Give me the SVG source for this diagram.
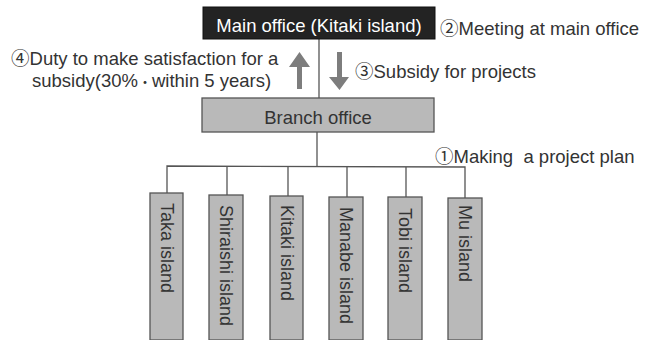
<svg xmlns="http://www.w3.org/2000/svg" width="645" height="340" viewBox="0 0 645 340">
<style>
text{font-family:"Liberation Sans",Arial,"DejaVu Sans",sans-serif;fill:#333;}
.lbl{font-size:18.5px;}
.cj{font-family:"Noto Sans CJK JP","DejaVu Sans",sans-serif;}
.box{fill:#b9b9b9;stroke:#555;stroke-width:1.3;}
.isl{font-size:18px;dominant-baseline:central;}
.conn{stroke:#555;stroke-width:1.3;fill:none;}
.arr{fill:#7d7d7d;}
</style>
<rect width="645" height="340" fill="#fff"/>
<g id="connectors">
<line class="conn" x1="319" y1="39" x2="319" y2="98"/>
<line class="conn" x1="317" y1="132" x2="317" y2="167"/>
<polyline class="conn" points="167,193 167,166 465,167 465,198"/>
<line class="conn" x1="227" y1="166" x2="227" y2="195"/>
<line class="conn" x1="288" y1="166" x2="288" y2="196"/>
<line class="conn" x1="347" y1="167" x2="347" y2="197"/>
<line class="conn" x1="406" y1="167" x2="406" y2="197"/>
<path class="arr" d="M299.5,52 L310,67 L302,67 L302,89 L297,89 L297,67 L289,67 Z"/>
<path class="arr" d="M339.5,90 L349,77 L342,77 L342,52 L337,52 L337,77 L329,77 Z"/>
</g>
<g id="main-office">
<rect x="203" y="7" width="232" height="32" fill="#232323" stroke="#111" stroke-width="1"/>
<text class="lbl" x="319" y="32" text-anchor="middle" style="fill:#fff">Main office (Kitaki island)</text>
</g>
<g id="branch-office">
<rect class="box" x="202" y="98" width="232" height="34"/>
<text class="lbl" x="318" y="124" text-anchor="middle">Branch office</text>
</g>
<g id="labels">
<text class="lbl" x="440" y="35"><tspan class="cj">②</tspan>Meeting at main office</text>
<text class="lbl" x="11" y="65"><tspan class="cj">④</tspan>Duty to make satisfaction for a</text>
<text class="lbl" x="32" y="87">subsidy(30%<tspan class="cj" style="font-size:14px">・</tspan>within 5 years)</text>
<text class="lbl" x="355" y="78"><tspan class="cj">③</tspan>Subsidy for projects</text>
<text class="lbl" x="435" y="163" xml:space="preserve"><tspan class="cj">①</tspan>Making  a project plan</text>
</g>
<g id="taka">
<rect class="box" x="150" y="193" width="33" height="147"/>
<text class="isl" transform="translate(166.5,203) rotate(90)">Taka island</text>
</g>
<g id="shiraishi">
<rect class="box" x="209" y="195" width="34" height="145"/>
<text class="isl" transform="translate(226,205) rotate(90)">Shiraishi island</text>
</g>
<g id="kitaki">
<rect class="box" x="270" y="196" width="33" height="144"/>
<text class="isl" transform="translate(286.5,205) rotate(90)">Kitaki island</text>
</g>
<g id="manabe">
<rect class="box" x="329" y="197" width="34" height="143"/>
<text class="isl" transform="translate(346,207) rotate(90)">Manabe island</text>
</g>
<g id="tobi">
<rect class="box" x="388" y="197" width="34" height="143"/>
<text class="isl" transform="translate(405,208) rotate(90)">Tobi island</text>
</g>
<g id="mu">
<rect class="box" x="448" y="198" width="34" height="142"/>
<text class="isl" transform="translate(465,205) rotate(90)">Mu island</text>
</g>
</svg>
